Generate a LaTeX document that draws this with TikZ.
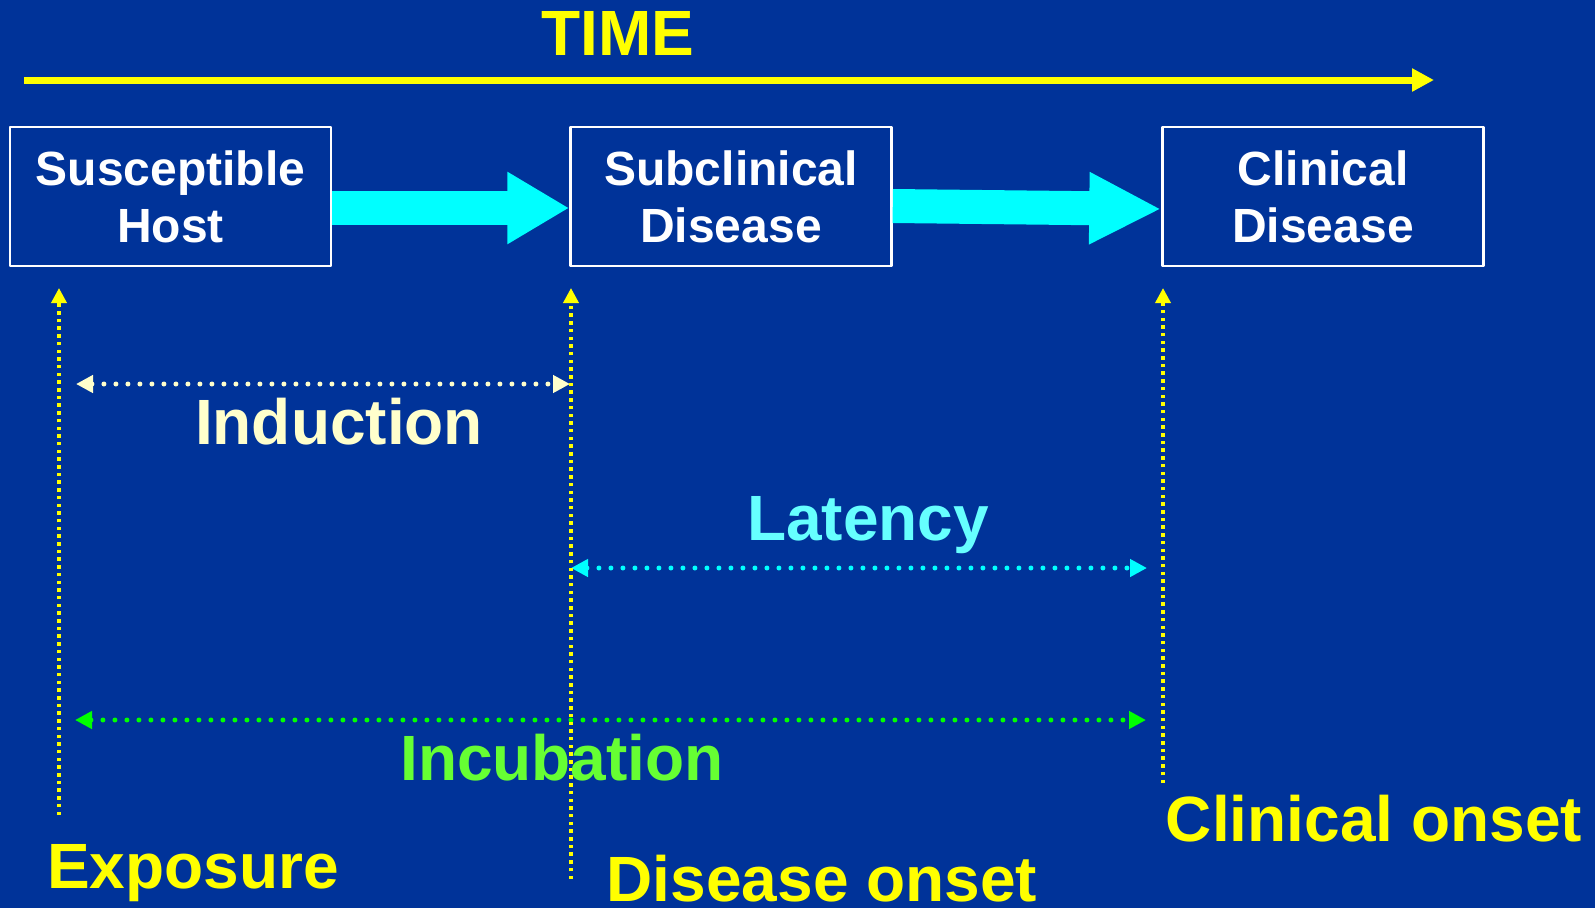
\documentclass[tikz,border=0pt]{standalone}
\usepackage{fontspec}
\setmainfont{Liberation Sans}
\usetikzlibrary{arrows.meta}

\definecolor{slideblue}{RGB}{0,51,153}
\definecolor{brightcyan}{RGB}{0,255,255}
\definecolor{brightgreen}{RGB}{0,255,0}
\definecolor{brightyellow}{RGB}{255,255,0}
\definecolor{paleyellow}{RGB}{255,255,204}
\definecolor{palecyan}{RGB}{102,255,255}
\definecolor{palegreen}{RGB}{102,255,51}

\begin{document}
\begin{tikzpicture}[
        x = 1pt, y = -1pt,
        line join=round,
        stagebox/.style = {draw=white, line width=2.5pt, fill=slideblue, text=white,
            minimum width=321pt, minimum height=139pt, align=center, inner sep=0pt,
            font=\fontsize{48}{57}\selectfont\bfseries},
        bigarrow/.style = {brightcyan, line width=34pt, -{Triangle[length=62pt, width=68pt]}},
        bigtext/.style = {anchor=base, inner sep=0pt, font=\fontsize{64}{72}\selectfont\bfseries},
        timeline/.style = {brightyellow, line width=7pt, -{Triangle[length=22pt, width=22pt]}},
        markline/.style = {brightyellow, line width=3.5pt, dash pattern=on 3.5pt off 4.2pt,
            -{Triangle[length=15pt, width=15pt]}},
        dotspan/.style = {line width=5pt, line cap=round, dash pattern=on 0pt off 12pt,
            {Triangle[length=17pt, width=17pt]}-{Triangle[length=17pt, width=17pt]}}
    ]

    \path[use as bounding box, fill=slideblue] (0, 0) rectangle (1595, 908);

    % time axis
    \node[bigtext, text=brightyellow] (time) at (618, 55) {TIME};
    \coordinate (t0) at (24, 80);
    \coordinate (t1) at (1434, 80);
    \draw[timeline] (t0) -- (t1);

    % stages
    \node[stagebox] (host) at (170.5, 196.5) {Susceptible\\Host};
    \node[stagebox] (sub)  at (731, 196.5)   {Subclinical\\Disease};
    \node[stagebox] (clin) at (1323, 196.5)  {Clinical\\Disease};

    \draw[bigarrow] ([yshift=-11.5pt]host.east) -- ([yshift=-11.5pt]sub.west);
    \draw[bigarrow, -{Triangle[length=72pt, width=67pt]}]
        ([yshift=-9.5pt]sub.east) -- ([yshift=-12.5pt]clin.west);

    % event markers
    \coordinate (1) at (59, 815);
    \coordinate (2) at (59, 288);
    \coordinate (3) at (571, 879);
    \coordinate (4) at (571, 288);
    \coordinate (5) at (1163, 783);
    \coordinate (6) at (1163, 288);

    % periods
    \coordinate (ind0) at (76, 384);
    \coordinate (ind1) at (570, 384);
    \coordinate (lat0) at (571, 568);
    \coordinate (lat1) at (1147, 568);
    \coordinate (inc0) at (75, 720);
    \coordinate (inc1) at (1146, 720);

    \draw[dotspan, paleyellow] (ind0) -- (ind1);
    \draw[dotspan, brightcyan] (lat0) -- (lat1);
    \draw[dotspan, brightgreen] (inc0) -- (inc1);

    \draw[markline] (1) -- (2);
    \draw[markline] (3) -- (4);
    \draw[markline] (5) -- (6);

    \node[bigtext, text=paleyellow] (induction) at (339, 444) {Induction};
    \node[bigtext, text=palecyan] (latency) at (868, 540) {Latency};
    \node[bigtext, text=palegreen] (incubation) at (562, 780) {Incubation};

    \node[bigtext, text=brightyellow] (exposure) at (193, 888) {Exposure};
    \node[bigtext, text=brightyellow] (onset) at (822, 901) {Disease onset};
    \node[bigtext, text=brightyellow] (clinonset) at (1374, 841) {Clinical onset};
\end{tikzpicture}
\end{document}
